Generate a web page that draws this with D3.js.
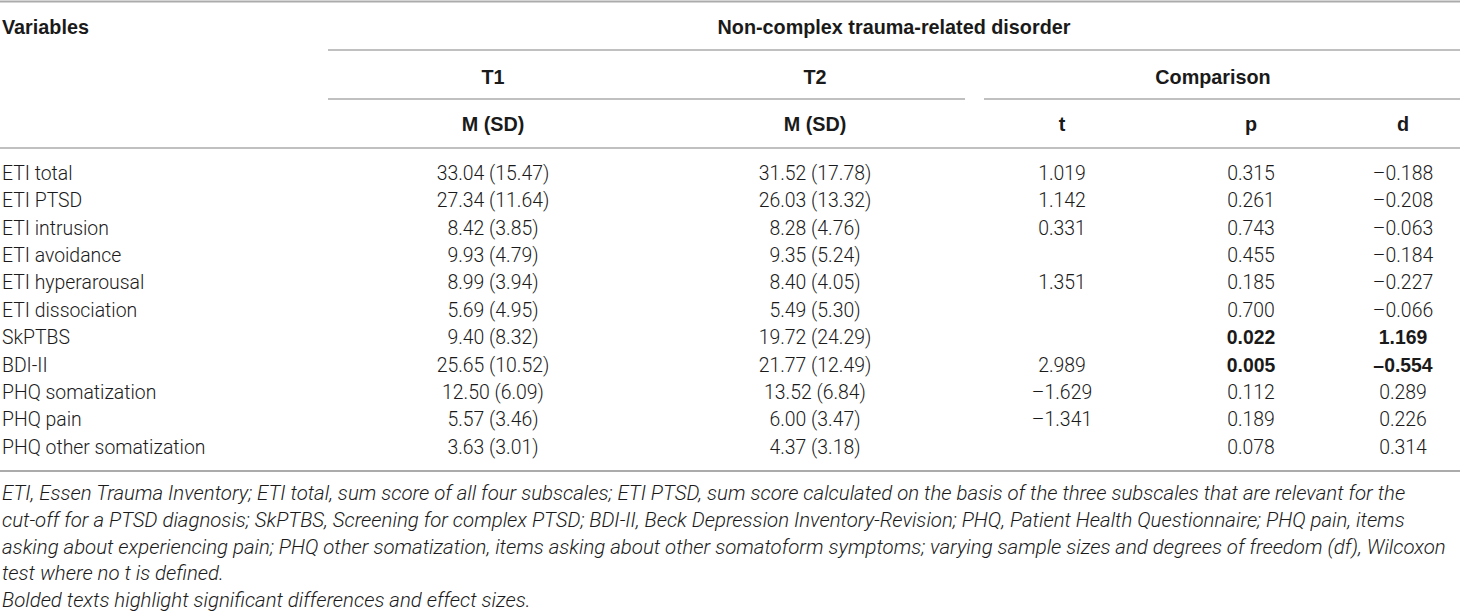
<!DOCTYPE html>
<html>
<head>
<meta charset="utf-8">
<script src="https://cdn.jsdelivr.net/npm/d3@7"></script>
<style>
  body{margin:0;background:#fff;}
  svg{display:block;}
  .cell{font-family:Roboto,"Liberation Sans",sans-serif;font-weight:300;font-size:19.4px;fill:#1a1a1a;}
  .head{font-family:"Liberation Sans",Arial,sans-serif;font-weight:700;font-size:19.8px;fill:#1a1a1a;}
  .note{font-family:Roboto,"Liberation Sans",sans-serif;font-weight:300;font-style:italic;font-size:20.4px;fill:#1a1a1a;}
  .rule{stroke:#ababab;}
</style>
</head>
<body>
<div class="graph"></div>
<script>
(function(){
  // table values
  let variables = ["ETI total","ETI PTSD","ETI intrusion","ETI avoidance","ETI hyperarousal",
                   "ETI dissociation","SkPTBS","BDI-II","PHQ somatization","PHQ pain",
                   "PHQ other somatization"];
  let t1Mean = [33.04,27.34,8.42,9.93,8.99,5.69,9.40,25.65,12.50,5.57,3.63];
  let t1SD   = [15.47,11.64,3.85,4.79,3.94,4.95,8.32,10.52,6.09,3.46,3.01];
  let t2Mean = [31.52,26.03,8.28,9.35,8.40,5.49,19.72,21.77,13.52,6.00,4.37];
  let t2SD   = [17.78,13.32,4.76,5.24,4.05,5.30,24.29,12.49,6.84,3.47,3.18];
  // null = Wilcoxon test, no t defined
  let tVals = [1.019,1.142,0.331,null,1.351,null,null,2.989,-1.629,-1.341,null];
  let pVals = [0.315,0.261,0.743,0.455,0.185,0.700,0.022,0.005,0.112,0.189,0.078];
  let dVals = [-0.188,-0.208,-0.063,-0.184,-0.227,-0.066,1.169,-0.554,0.289,0.226,0.314];

  let groupTitle = "Non-complex trauma-related disorder";
  let timeLabels = ["T1","T2","Comparison"];
  let colLabels = ["M (SD)","M (SD)","t","p","d"];
  let notes = [
    "ETI, Essen Trauma Inventory; ETI total, sum score of all four subscales; ETI PTSD, sum score calculated on the basis of the three subscales that are relevant for the",
    "cut-off for a PTSD diagnosis; SkPTBS, Screening for complex PTSD; BDI-II, Beck Depression Inventory-Revision; PHQ, Patient Health Questionnaire; PHQ pain, items",
    "asking about experiencing pain; PHQ other somatization, items asking about other somatoform symptoms; varying sample sizes and degrees of freedom (df), Wilcoxon",
    "test where no t is defined.",
    "Bolded texts highlight significant differences and effect sizes."
  ];

  let WIDTH = 1460, HEIGHT = 614;
  let svg = d3.select("div.graph").append("svg")
      .attr("width",WIDTH)
      .attr("height",HEIGHT);

  let f2 = d3.format(".2f"), f3 = d3.format(".3f");
  let dash = s => s.replace(/[\u2212-]/g,"\u2013");
  let ms = (m,s) => f2(m)+" ("+f2(s)+")";

  // column centres and rows
  let cols = d3.scaleOrdinal().domain(d3.range(5)).range([493,815,1062,1251,1403]);
  let y = d3.scalePoint().domain(variables).range([173,447]);
  let noteY = d3.scalePoint().domain(d3.range(notes.length)).range([493,600]);

  let rows = variables.map((v,i)=>({
    name: v,
    cells: [ms(t1Mean[i],t1SD[i]), ms(t2Mean[i],t2SD[i]),
            tVals[i]==null?"":dash(f3(tVals[i])),
            f3(pVals[i]), dash(f3(dVals[i]))],
    sig: pVals[i] < 0.05
  }));

  // rules
  let rules = [
    {x1:0,x2:WIDTH,y:1.5,w:2},
    {x1:328,x2:WIDTH,y:50,w:1.6},
    {x1:328,x2:965,y:99,w:1.6},
    {x1:984,x2:WIDTH,y:99,w:1.6},
    {x1:0,x2:WIDTH,y:148,w:1.6},
    {x1:0,x2:WIDTH,y:471,w:2}
  ];
  svg.selectAll("line.rule").data(rules).enter()
    .append("line").classed("rule",true)
    .attr("x1",d=>d.x1).attr("x2",d=>d.x2)
    .attr("y1",d=>d.y).attr("y2",d=>d.y)
    .attr("stroke-width",d=>d.w);

  // header
  let head = svg.append("g");
  head.append("text").classed("head",true)
    .attr("x",2).attr("y",27).attr("dy","0.35em").text("Variables");
  head.append("text").classed("head",true)
    .attr("x",894).attr("y",27).attr("dy","0.35em")
    .attr("text-anchor","middle").text(groupTitle);
  head.selectAll("text.time").data(timeLabels).enter()
    .append("text").attr("class","head time")
    .attr("x",(d,i)=>[cols(0),cols(1),1213][i])
    .attr("y",77).attr("dy","0.35em")
    .attr("text-anchor","middle").text(d=>d);
  head.selectAll("text.col").data(colLabels).enter()
    .append("text").attr("class","head col")
    .attr("x",(d,i)=>cols(i))
    .attr("y",124).attr("dy","0.35em")
    .attr("text-anchor","middle").text(d=>d);

  // body rows
  let rg = svg.selectAll("g.row").data(rows).enter()
    .append("g").classed("row",true)
    .attr("transform",d=>"translate(0,"+y(d.name)+")");
  rg.append("text").classed("cell",true)
    .attr("x",2).attr("dy","0.35em").text(d=>d.name);
  rg.selectAll("text.val").data(d=>d.cells.map((c,i)=>({c:c,i:i,sig:d.sig})))
    .enter().append("text").attr("class","cell val")
    .attr("x",d=>cols(d.i)).attr("dy","0.35em")
    .attr("text-anchor","middle")
    .style("font-weight",d=>d.sig && d.i>=3?700:null)
    .style("font-family",d=>d.sig && d.i>=3?'"Liberation Sans",Arial,sans-serif':null)
    .text(d=>d.c);

  // footnote
  svg.selectAll("text.note").data(notes).enter()
    .append("text").classed("note",true)
    .attr("x",2).attr("y",(d,i)=>noteY(i)).attr("dy","0.35em")
    .text(d=>d);
})();
</script>
</body>
</html>
